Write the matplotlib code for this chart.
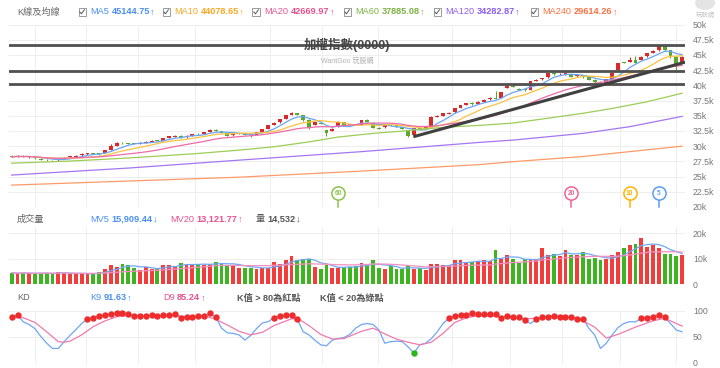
import numpy as np
import pandas as pd
import matplotlib
matplotlib.use("Agg")
import matplotlib.pyplot as plt
from matplotlib.patches import Rectangle
from matplotlib.lines import Line2D

plt.rcParams['font.family'] = ['Liberation Sans', 'Noto Sans CJK TC', 'DejaVu Sans']

W, H = 720, 368

# daily candles, index points in thousands
opens = [28.40, 28.25, 28.40, 28.22, 28.25, 27.95, 27.78, 27.72, 27.70, 27.95,
         28.15, 28.30, 28.50, 28.70, 28.85, 28.80, 28.85, 29.35, 30.00, 30.55,
         30.50, 30.45, 30.40, 30.60, 30.75, 30.95, 30.90, 31.35, 31.55, 31.75,
         31.45, 31.75, 32.05, 32.00, 32.30, 32.70, 32.50, 32.20, 31.80, 32.00,
         32.10, 31.95, 31.85, 32.30, 32.80, 33.50, 33.90, 34.45, 35.15, 35.40,
         35.15, 34.35, 33.55, 33.75, 32.60, 32.55, 33.20, 33.95, 33.60, 33.62,
         33.55, 34.30, 33.85, 33.05, 33.10, 33.50, 33.40, 33.15, 32.60, 31.80,
         32.95, 32.80, 33.10, 34.80, 35.00, 35.35, 35.55, 36.30, 36.80, 37.10,
         36.95, 37.25, 37.70, 38.00, 37.90, 39.60, 39.85, 39.45, 39.40, 39.25,
         40.75, 41.00, 41.30, 41.95, 41.80, 41.85, 41.85, 41.50, 41.65, 41.30,
         40.90, 40.60, 40.45, 41.05, 42.55, 43.80, 43.90, 44.15, 44.15, 44.75,
         45.30, 45.75, 46.45, 45.75, 44.60, 43.75]
closes = [28.25, 28.38, 28.26, 28.30, 28.00, 27.75, 27.68, 27.65, 27.85, 28.10,
          28.35, 28.45, 28.70, 28.85, 28.75, 28.70, 29.30, 30.00, 30.60, 30.45,
          30.40, 30.35, 30.60, 30.75, 30.90, 30.85, 31.35, 31.65, 31.75, 31.40,
          31.75, 31.95, 31.95, 32.30, 32.65, 32.50, 32.20, 31.75, 32.05, 32.15,
          31.90, 31.80, 32.30, 32.75, 33.45, 33.85, 34.40, 35.10, 35.40, 35.15,
          34.30, 32.95, 33.90, 33.65, 32.20, 32.85, 34.00, 33.55, 33.50, 33.55,
          34.30, 34.00, 33.00, 32.85, 33.45, 33.40, 33.15, 32.85, 31.70, 32.95,
          32.75, 33.10, 34.85, 34.95, 35.40, 35.50, 36.25, 36.75, 37.05, 36.90,
          37.25, 37.65, 37.90, 37.80, 38.85, 39.85, 39.75, 39.25, 39.20, 40.65,
          40.95, 41.20, 41.95, 41.85, 41.90, 41.95, 41.45, 41.65, 41.35, 40.90,
          40.55, 40.45, 41.00, 42.10, 43.60, 43.70, 44.15, 43.75, 44.70, 45.25,
          45.70, 46.45, 45.80, 44.85, 43.35, 44.70]
highs = [28.50, 28.48, 28.52, 28.38, 28.32, 28.02, 27.85, 27.80, 27.92, 28.18,
         28.42, 28.55, 28.80, 28.95, 28.92, 28.88, 29.38, 30.30, 30.68, 30.70,
         30.58, 30.52, 30.68, 30.85, 31.00, 31.05, 31.42, 31.72, 31.85, 31.80,
         31.82, 32.02, 32.12, 32.38, 32.75, 32.80, 32.55, 32.25, 32.12, 32.22,
         32.18, 32.02, 32.38, 32.82, 33.52, 34.00, 34.48, 35.18, 35.55, 35.48,
         35.20, 34.40, 34.00, 33.82, 32.70, 32.92, 34.08, 34.02, 33.68, 33.70,
         34.38, 34.40, 33.90, 33.12, 33.55, 33.58, 33.48, 33.22, 32.65, 33.02,
         33.05, 33.18, 34.92, 35.05, 35.48, 35.60, 36.32, 36.82, 37.12, 37.18,
         37.35, 37.72, 38.00, 39.10, 38.92, 40.05, 40.30, 39.52, 39.48, 40.72,
         41.05, 41.28, 42.02, 42.05, 42.00, 42.05, 41.92, 41.75, 41.72, 41.38,
         40.98, 40.68, 41.08, 42.18, 43.68, 43.90, 44.70, 44.80, 44.85, 45.35,
         45.80, 46.55, 46.52, 45.82, 44.68, 44.78]
lows = [28.15, 28.18, 28.18, 28.12, 27.92, 27.65, 27.60, 27.58, 27.62, 27.90,
        28.10, 28.25, 28.45, 28.62, 28.66, 28.60, 28.80, 29.30, 29.95, 30.38,
        30.32, 30.28, 30.35, 30.55, 30.70, 30.78, 30.85, 31.30, 31.50, 31.32,
        31.40, 31.70, 31.88, 31.95, 32.25, 32.42, 32.12, 31.68, 31.72, 31.95,
        31.82, 31.45, 31.80, 32.25, 32.75, 33.45, 33.85, 34.40, 35.10, 35.05,
        34.20, 32.85, 33.45, 33.58, 31.65, 32.50, 33.15, 33.48, 33.42, 33.48,
        33.50, 33.92, 32.92, 32.78, 33.05, 33.32, 33.08, 32.78, 31.55, 31.75,
        32.68, 32.75, 33.05, 34.75, 34.95, 35.30, 35.50, 36.25, 36.75, 36.82,
        36.90, 37.20, 37.65, 37.72, 37.85, 39.55, 39.68, 39.18, 39.12, 39.20,
        40.70, 40.95, 41.25, 41.78, 41.72, 41.78, 41.38, 41.42, 41.28, 40.82,
        40.45, 40.38, 40.40, 41.00, 42.50, 43.62, 43.85, 43.68, 44.10, 44.70,
        45.25, 45.70, 45.72, 44.45, 42.50, 43.60]

# volume, thousand lots
volumes = [4.4, 4.15, 4.5, 4.15, 3.9, 4.5, 4.4, 3.9, 4.8, 4.5,
           3.9, 3.9, 3.9, 4.15, 4.15, 4.8, 5.8, 7.4, 6.7, 8.0,
           7.4, 6.35, 5.45, 6.7, 6.1, 5.85, 7.65, 7.4, 7.1, 8.4,
           7.8, 7.65, 7.65, 7.65, 8.0, 8.7, 8.4, 7.1, 7.65, 6.5,
           6.5, 6.5, 5.85, 6.35, 6.35, 8.7, 8.0, 9.3, 11.0, 9.3,
           10.0, 10.0, 6.7, 5.85, 7.4, 6.5, 6.35, 6.7, 6.7, 7.0,
           8.4, 7.8, 9.3, 6.35, 5.85, 7.0, 5.85, 5.85, 7.4, 5.85,
           6.35, 5.45, 8.0, 7.8, 7.65, 7.4, 9.3, 9.3, 8.7, 8.7,
           8.9, 9.3, 9.1, 13.6, 9.7, 11.3, 9.7, 8.4, 9.7, 9.7,
           9.7, 14.1, 11.5, 11.9, 10.9, 13.6, 11.6, 11.6, 12.8, 9.7,
           10.4, 9.3, 9.7, 11.5, 12.6, 14.3, 15.2, 15.7, 18.0, 14.5,
           15.4, 14.1, 11.9, 11.8, 10.9, 11.3]

# long averages at a few bars
ma60_x = [0, 10, 20, 32, 39, 45, 51, 56, 62, 68, 74, 80, 86, 92, 98, 103, 109, 115]
ma60_y = [27.2, 27.55, 28.05, 28.8, 29.35, 29.9, 30.7, 31.5, 32.1, 32.55, 33.1, 33.4,
          33.8, 34.6, 35.4, 36.2, 37.3, 38.7]
ma120_x = [0, 20, 39, 60, 80, 86, 92, 98, 106, 115]
ma120_y = [25.25, 26.4, 27.7, 29.1, 30.6, 31.0, 31.55, 32.1, 33.2, 34.9]
ma240_x = [0, 39, 60, 80, 86, 98, 106, 115]
ma240_y = [23.6, 24.9, 25.9, 26.95, 27.45, 28.3, 29.1, 30.0]

# KD
k9 = [89, 92, 79, 74, 66, 51, 38, 28, 28, 41,
      53, 64, 76, 84.6, 87.2, 90.4, 93, 94.2, 95.5, 96,
      94.2, 91, 91, 91, 92.3, 91, 91.6, 92.3, 93.6, 87.2,
      88.5, 89.1, 89.8, 91, 95.5, 88, 67, 58, 57, 54,
      44, 53, 66, 77, 79.5, 87, 90.4, 92.3, 92.3, 84.6,
      60, 54, 44, 35, 33, 44, 47, 49, 55, 67,
      74, 76, 74, 63.5, 38, 41, 42, 41, 31, 19,
      35, 38, 47, 60, 76, 86, 90.4, 92.3, 92.3, 95.5,
      94.2, 94.2, 94.2, 94.2, 86, 90.4, 89, 87.8, 82.7, 76,
      84, 89, 89, 91, 89, 89, 89, 85, 85, 66.7,
      54, 28, 38, 54, 68, 76, 79.5, 79, 86, 87,
      88.5, 92, 87.8, 76, 63.5, 60]
d9_x = [0, 2, 4, 6, 8, 9, 10, 12, 14, 16, 18, 20, 28, 30, 33, 35, 37, 39, 41, 43, 45,
        48, 49, 51, 53, 55, 57, 60, 62, 64, 66, 68, 70, 72, 74, 76, 78, 80, 84, 88,
        90, 92, 95, 97, 100, 102, 104, 107, 110, 112, 115]
d9_y = [89, 87, 78, 60, 41, 40, 42, 54, 70, 81, 89, 91, 91, 89, 91, 84, 73, 61, 54, 59, 72,
        85, 86, 72, 55, 46, 47, 61, 67, 56, 46, 40, 35, 40, 57, 78, 87, 91, 89, 85,
        86, 89, 90, 87, 69, 48, 55, 69, 81, 86, 71]

# support / resistance drawn on the chart
levels = [46.7, 42.3, 40.15]
trend_x = [68.9, 115.5]
trend_y = [31.55, 43.8]

vgrid = [4.0, 12.7, 21.7, 31.4, 44.3, 53.2, 62.8, 75.5, 85.5, 94.4, 104.3, 113.9]

ma_names = ['MA5', 'MA10', 'MA20', 'MA60', 'MA120', 'MA240']
ma_values = ['45144.75', '44078.65', '42669.97', '37885.08', '34282.87', '29614.26']
ma_line_colors = ['#6aa5f5', '#fbc23e', '#ef6aa8', '#9ccd55', '#a676f2', '#ff9a68']
ma_text_colors = ['#4b8ef0', '#f6a821', '#e8528f', '#7cb342', '#8b5cf0', '#ff7043']
mark_periods = [60, 20, 10, 5]
mark_colors = ['#8bc34a', '#f06292', '#ffb300', '#5c9cf5']

RED, GREEN = '#d82a2a', '#5aa82a'
VRED, VGREEN = '#f23d3d', '#3cb521'
GRID = '#eeeeee'

n = len(closes)
x = np.arange(n)
o = np.array(opens)
c = np.array(closes)
up = c >= o

fig = plt.figure(figsize=(7.2, 3.68), dpi=100)
fig.patch.set_facecolor('white')


def box(left, top, right, bottom):
    return fig.add_axes([left / W, 1 - bottom / H, (right - left) / W, (bottom - top) / H])


def style(ax, ticks, labels):
    ax.set_xlim(-0.46, 115.5)
    for s in ax.spines.values():
        s.set_visible(False)
    ax.yaxis.tick_right()
    ax.set_yticks(ticks)
    ax.set_yticklabels(labels)
    ax.tick_params(axis='y', length=0, labelsize=6.3, labelcolor='#777777', pad=5.7)
    ax.set_xticks([])
    ax.yaxis.grid(True, color=GRID, lw=0.7)
    for g in vgrid:
        ax.axvline(g, color=GRID, lw=0.7, zorder=0)
    ax.set_axisbelow(True)


ax_k = box(9, 24.5, 685, 207)
ax_v = box(9, 228, 685, 284)
ax_d = box(9, 311, 685, 363)

# ---- price panel
kt = np.arange(20, 50.1, 2.5)
style(ax_k, kt, [('%g' % t) + 'k' for t in kt])
ax_k.set_ylim(20, 50)

body_lo = np.minimum(o, c)
body_h = np.maximum(np.abs(c - o), 0.05)
cols = np.where(up, RED, GREEN)
ax_k.vlines(x, lows, highs, colors=cols, lw=0.8, zorder=2)
ax_k.bar(x, body_h, bottom=body_lo, width=0.66, color=cols, zorder=3)

s = pd.Series(closes)
for per, col in zip([5, 10, 20], ma_line_colors[:3]):
    ax_k.plot(x, s.rolling(per, min_periods=1).mean(), color=col, lw=0.9, zorder=4)
ax_k.plot(ma60_x, ma60_y, color=ma_line_colors[3], lw=0.9, zorder=4)
ax_k.plot(ma120_x, ma120_y, color=ma_line_colors[4], lw=0.9, zorder=4)
ax_k.plot(ma240_x, ma240_y, color=ma_line_colors[5], lw=0.9, zorder=4)

for lv in levels:
    ax_k.axhline(lv, color='#505050', lw=2.0, zorder=5)
ax_k.plot(trend_x, trend_y, color='#404040', lw=2.2, zorder=5, solid_capstyle='butt')

for per, col in zip(mark_periods, mark_colors):
    mx = n - per
    ax_k.plot([mx, mx], [20, 21.2], color=col, lw=1.1, zorder=6, clip_on=False)
    ax_k.plot([mx], [22.3], 'o', ms=9.5, mfc='white', mec=col, mew=1.1, zorder=7, clip_on=False)
    ax_k.text(mx, 22.3, str(per), color=col, fontsize=4.8, fontweight='bold',
              ha='center', va='center', zorder=8)

ax_k.text(0.5, (46.55 - 20) / 30, '加權指數(0000)', transform=ax_k.transAxes,
          ha='center', va='center', fontsize=9, fontweight='bold', color='#444444', zorder=6)
ax_k.text(0.5, (43.9 - 20) / 30, 'WantGoo 玩股網', transform=ax_k.transAxes,
          ha='center', va='center', fontsize=5, color='#b0b0b0', zorder=6)

# ---- volume panel
style(ax_v, [0, 10, 20], ['0', '10k', '20k'])
ax_v.set_ylim(0, 22.1)
ax_v.bar(x, volumes, width=0.66, color=np.where(up, VRED, VGREEN), zorder=2)
vs = pd.Series(volumes)
ax_v.plot(x, vs.rolling(5, min_periods=1).mean(), color='#6fa8f7', lw=0.9, zorder=3)
ax_v.plot(x, vs.rolling(20, min_periods=1).mean(), color='#f58fbf', lw=0.9, zorder=3)

# ---- KD panel
style(ax_d, [0, 50, 100], ['0', '50', '100'])
ax_d.set_ylim(0, 100)
ax_d.plot(x, k9, color='#6ea6f7', lw=0.9, zorder=2)
ax_d.plot(d9_x, d9_y, color='#f07aae', lw=0.9, zorder=2)
kk = np.array(k9)
ax_d.plot(x[kk > 80], kk[kk > 80], 'o', ms=3.6, color='#ef2b2b', zorder=3, clip_on=False)
ax_d.plot(x[kk < 20], kk[kk < 20], 'o', ms=3.6, color='#2fb41f', zorder=3, clip_on=False)

# ---- header texts
renderer = fig.canvas.get_renderer()


def chain(px, py, pieces):
    for txt, col, bold, gap in pieces:
        t = fig.text(px / W, 1 - py / H, txt, color=col, fontsize=6.6,
                     fontweight='bold' if bold else 'normal', ha='left', va='center')
        bb = t.get_window_extent(renderer)
        px = bb.x1 + gap


def checkbox(px, py):
    fig.add_artist(Rectangle(((px - 3.5) / W, 1 - (py + 3.5) / H), 7 / W, 7 / H,
                             transform=fig.transFigure, fill=False, ec='#9a9a9a', lw=0.7))
    fig.add_artist(Line2D([(px - 2.2) / W, (px - 0.6) / W, (px + 2.4) / W],
                          [1 - py / H, 1 - (py + 1.8) / H, 1 - (py - 2.2) / H],
                          transform=fig.transFigure, color='#555555', lw=0.7))


chain(17, 12, [('K線及均線', '#666666', False, 0)])
box_x = [82, 166, 256, 347, 437, 534]
for bx, name, val, col in zip(box_x, ma_names, ma_values, ma_text_colors):
    checkbox(bx, 12)
    chain(bx + 8, 12, [(name, col, False, 2.5), (val, col, True, 0.5), ('↑', col, False, 0)])

chain(17, 219, [('成交量', '#666666', False, 0)])
chain(90, 219, [('MV5', '#4b8ef0', False, 2.5), ('15,909.44', '#4b8ef0', True, 0.5), ('↓', '#4b8ef0', False, 0)])
chain(170, 219, [('MV20', '#e8528f', False, 2.5), ('13,121.77', '#e8528f', True, 0.5), ('↑', '#e8528f', False, 0)])
chain(256, 219, [('量', '#555555', False, 2.5), ('14,532', '#555555', True, 0.5), ('↓', '#555555', False, 0)])

chain(17, 298, [('KD', '#666666', False, 0)])
chain(90, 298, [('K9', '#4b8ef0', False, 2.5), ('91.63', '#4b8ef0', True, 0.5), ('↑', '#4b8ef0', False, 0)])
chain(163, 298, [('D9', '#e8528f', False, 2.5), ('85.24', '#e8528f', True, 0.5), ('↑', '#e8528f', False, 0)])
chain(237, 298, [('K值 > 80為紅點', '#555555', True, 0)])
chain(320, 298, [('K值 < 20為綠點', '#555555', True, 0)])

# logo corner
fig.text(705 / W, 1 - 15 / H, '玩股網', color='#c4c4c4', fontsize=4.6, ha='center', va='center')
fig.add_artist(matplotlib.patches.Ellipse((705 / W, 1 - 3 / H), 20 / W, 14 / H,
                                          transform=fig.transFigure, fc='#e4e4e4', ec='none'))

fig.savefig('out.png', dpi=100, facecolor='white')
